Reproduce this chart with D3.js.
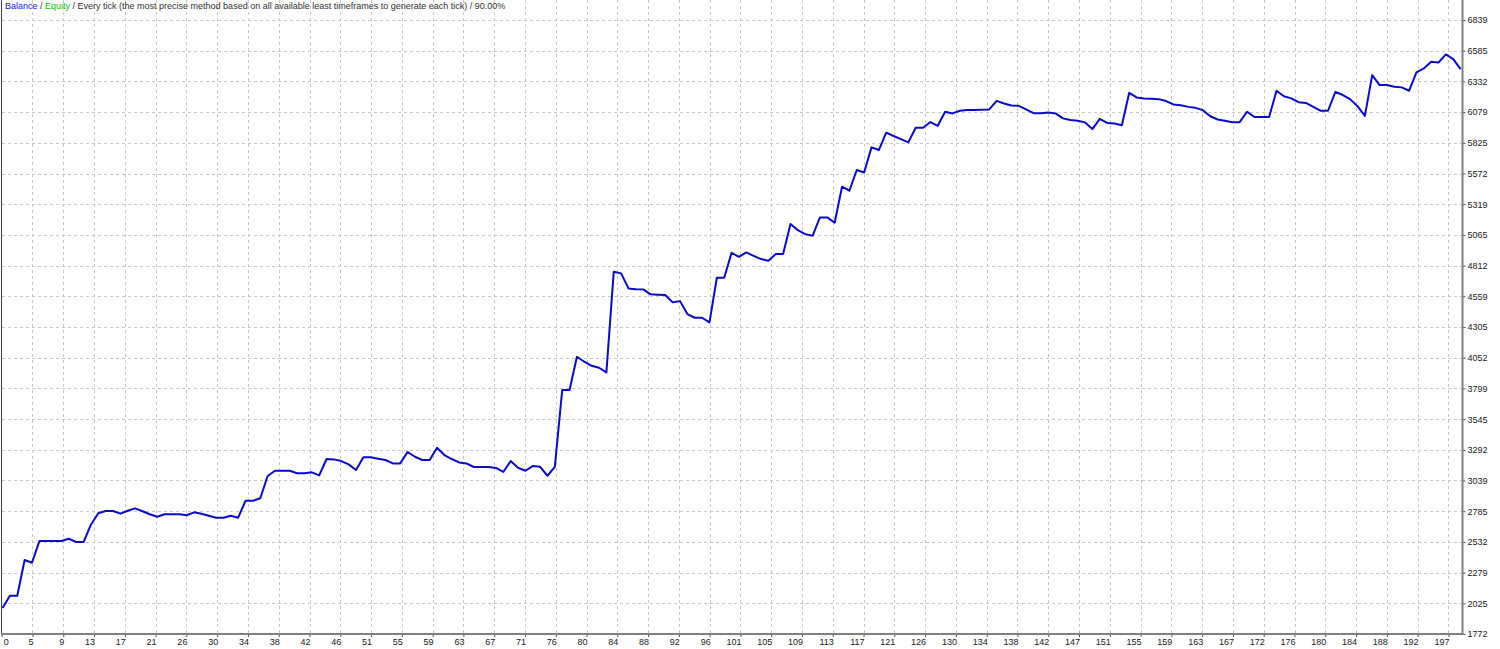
<!DOCTYPE html>
<html><head><meta charset="utf-8">
<script src="https://cdn.jsdelivr.net/npm/d3@7/dist/d3.min.js"></script>
<style>
html,body{margin:0;padding:0;background:#fff;overflow:hidden}
svg text{font-family:"Liberation Sans",Arial,sans-serif;}
</style>
</head><body>
<svg id="chart" width="1500" height="649"></svg>
<script>
// ---- data ----
const balance = [
1986,2088,2088,2383,2360,2539,2539,2539,2539,2558,
2531,2531,2674,2768,2787,2787,2765,2789,2809,2785,
2760,2740,2760,2760,2760,2752,2776,2765,2748,2732,
2732,2748,2732,2872,2872,2892,3076,3119,3119,3119,
3098,3098,3106,3081,3216,3213,3199,3172,3125,3230,
3230,3219,3208,3180,3180,3274,3235,3208,3208,3309,
3249,3216,3188,3180,3150,3150,3150,3142,3109,3199,
3144,3119,3158,3152,3078,3152,3785,3785,4060,4019,
3985,3969,3931,4761,4748,4624,4618,4616,4575,4572,
4569,4509,4519,4412,4382,4382,4344,4712,4712,4918,
4885,4921,4893,4866,4852,4907,4907,5155,5105,5072,
5058,5210,5210,5166,5463,5430,5601,5581,5788,5766,
5909,5882,5856,5829,5950,5950,5997,5966,6082,6068,
6090,6096,6097,6099,6101,6172,6150,6134,6131,6101,
6070,6070,6076,6068,6027,6013,6008,5994,5939,6023,
5990,5985,5971,6238,6200,6192,6189,6186,6170,6142,
6136,6122,6114,6095,6045,6018,6007,5996,5996,6082,
6038,6038,6038,6255,6210,6192,6161,6155,6122,6090,
6090,6246,6220,6186,6128,6048,6384,6302,6302,6288,
6283,6255,6407,6439,6494,6488,6555,6516,6434
];
const yTickValues = [1772,2025,2279,2532,2785,3039,3292,3545,3799,4052,4305,4559,4812,5065,5319,5572,5825,6079,6332,6585,6839];
const xTickLabels = [0,5,9,13,17,21,26,30,34,38,42,46,51,55,59,63,67,71,76,80,84,88,92,96,101,105,109,113,117,121,126,130,134,138,142,147,151,155,159,163,167,172,176,180,184,188,192,197];
const headerParts = [
  {text:"Balance", color:"#2020e0"},
  {text:" / ", color:"#303030"},
  {text:"Equity", color:"#10c010"},
  {text:" / Every tick (the most precise method based on all available least timeframes to generate each tick) / 90.00%", color:"#303030"}
];

// ---- layout ----
const plotLeft = 2.55, plotRight = 1462.5, plotTop = 20, plotBottom = 634;
const gridStep = 4.18; // index units between vertical grid lines

const svg = d3.select("#chart");
const x = d3.scaleLinear().domain([0, balance.length - 1]).range([plotLeft, 1460.6]);
const y = d3.scaleLinear().domain([yTickValues[0], yTickValues[yTickValues.length-1]]).range([plotBottom, plotTop]);
const kScale = d3.scaleLinear().domain([0, 1]).range([x(0) - 0.85, x(gridStep) - 0.85]);
const kTicks = d3.range(xTickLabels.length);

// grid
const grid = svg.append("g").attr("stroke", "#c8c8c8").attr("stroke-width", 1).attr("stroke-dasharray", "3,3");
grid.selectAll("line.h").data(yTickValues.slice(1)).join("line").attr("class","h")
  .attr("x1", 2).attr("x2", plotRight)
  .attr("y1", d => Math.round(y(d)) + 0.5).attr("y2", d => Math.round(y(d)) + 0.5);
grid.selectAll("line.v").data(kTicks.slice(1)).join("line").attr("class","v")
  .attr("y1", 0).attr("y2", plotBottom)
  .attr("x1", d => Math.round(kScale(d)) + 0.5).attr("x2", d => Math.round(kScale(d)) + 0.5);

// header
const ht = svg.append("text").attr("x", 5).attr("y", 9).attr("font-size", 9);
ht.selectAll("tspan").data(headerParts).join("tspan").attr("fill", d => d.color).text(d => d.text);

// balance line
const line = d3.line().x((d, i) => x(i)).y(d => y(d));
svg.append("path").datum(balance).attr("d", line)
  .attr("fill", "none").attr("stroke", "#0a0ac8").attr("stroke-width", 2)
  .attr("stroke-linejoin", "round");

// frame
svg.append("line").attr("x1", 1.5).attr("x2", 1.5).attr("y1", 0).attr("y2", plotBottom + 0.5)
  .attr("stroke", "#404040").attr("stroke-width", 1);

// y axis (right)
const yAxis = d3.axisRight(y).tickValues(yTickValues).tickSize(3).tickPadding(2).tickFormat(d3.format("d"));
const gy = svg.append("g").attr("transform", `translate(${plotRight},0)`).call(yAxis);
gy.select(".domain").remove();
gy.selectAll(".tick line").attr("stroke", "#505050");
gy.selectAll(".tick text").attr("font-size", 9).attr("fill", "#202020").attr("font-family", "Liberation Sans, Arial, sans-serif");
svg.append("line").attr("x1", plotRight).attr("x2", plotRight).attr("y1", 0).attr("y2", plotBottom + 1)
  .attr("stroke", "#808080").attr("stroke-width", 2);

// x axis (bottom)
const xAxis = d3.axisBottom(kScale).tickValues(kTicks).tickSize(3).tickPadding(2).tickFormat(k => xTickLabels[k]);
const gx = svg.append("g").attr("transform", `translate(0,${plotBottom})`).call(xAxis);
gx.select(".domain").remove();
gx.selectAll(".tick line").attr("stroke", "#505050");
gx.selectAll(".tick text").attr("font-size", 9).attr("fill", "#202020")
  .attr("font-family", "Liberation Sans, Arial, sans-serif")
  .attr("text-anchor", (d, i) => i === 0 ? "start" : "end")
  .attr("dx", (d, i) => i === 0 ? 1.5 : 0.5);
svg.append("line").attr("x1", 1).attr("x2", plotRight + 1).attr("y1", plotBottom).attr("y2", plotBottom)
  .attr("stroke", "#808080").attr("stroke-width", 2);
</script>
</body></html>
